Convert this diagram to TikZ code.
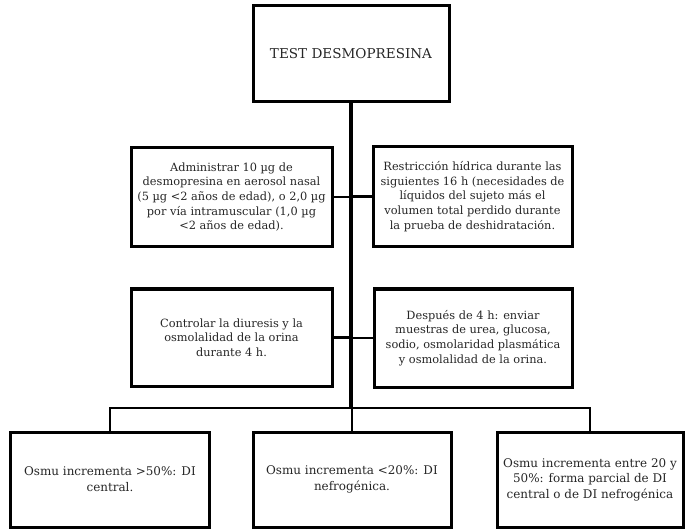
\documentclass[tikz,border=0pt]{standalone}
\usepackage{fontspec}
\setmainfont{DejaVu Serif}
\usetikzlibrary{positioning,calc}

\begin{document}
\begin{tikzpicture}[x=1bp,y=-1bp,font=\fontsize{11.4}{14.7}\selectfont,
    caja/.style={draw,line width=3bp,align=center,text=black!85,inner sep=1bp},
    tronco/.style={line width=4.5bp},
    rama/.style={line width=2.2bp}]

\useasboundingbox (0,0) rectangle (686,530);

% Cajas
\node[caja,minimum width=196bp,minimum height=96bp,font=\fontsize{13.6}{16}\selectfont] (test) at (351,54)
    {TEST DESMOPRESINA};

\node[caja,minimum width=201bp,minimum height=98bp] (admin) at (231.5,197)
    {Administrar 10 µg de\\desmopresina en aerosol nasal\\(5 µg <2 años de edad), o 2,0 µg\\por vía intramuscular (1,0 µg\\<2 años de edad).};

\node[caja,minimum width=199bp,minimum height=99bp] (restr) at (472.5,196.5)
    {Restricción hídrica durante las\\siguientes 16 h (necesidades de\\líquidos del sujeto más el\\volumen total perdido durante\\la prueba de deshidratación.};

\node[caja,minimum width=201bp,minimum height=97bp] (control) at (231.5,337.5)
    {Controlar la diuresis y la\\osmolalidad de la orina\\durante 4 h.};

\node[caja,minimum width=198bp,minimum height=98bp] (envio) at (473,338)
    {Después de 4 h: enviar\\muestras de urea, glucosa,\\sodio, osmolaridad plasmática\\y osmolalidad de la orina.};

\node[caja,minimum width=198bp,minimum height=95bp,font=\fontsize{12}{16}\selectfont] (central) at (110,479.5)
    {Osmu incrementa >50\%: DI\\central.};

\node[caja,minimum width=198bp,minimum height=95bp,font=\fontsize{12}{16}\selectfont] (nefro) at (352,479.5)
    {Osmu incrementa <20\%: DI\\nefrogénica.};

\node[caja,minimum width=186bp,minimum height=95bp,font=\fontsize{12}{15.5}\selectfont] (parcial) at (590,479.5)
    {Osmu incrementa entre 20 y\\50\%: forma parcial de DI\\central o de DI nefrogénica};

% Conexiones
\coordinate (bus) at (350,408);

\draw[tronco] (test.south) -- (test.south |- bus);

\draw[rama] (admin.east) -- (admin.east -| test.south);
\draw[rama] (restr.west) -- (restr.west -| test.south);
\draw[rama] (control.east) -- (control.east -| test.south);
\draw[rama] (envio.west) -- (envio.west -| test.south);

\draw[rama] (central.north) |- (bus) -| (parcial.north);
\draw[rama] (nefro.north |- bus) -- (nefro.north);

\end{tikzpicture}
\end{document}
